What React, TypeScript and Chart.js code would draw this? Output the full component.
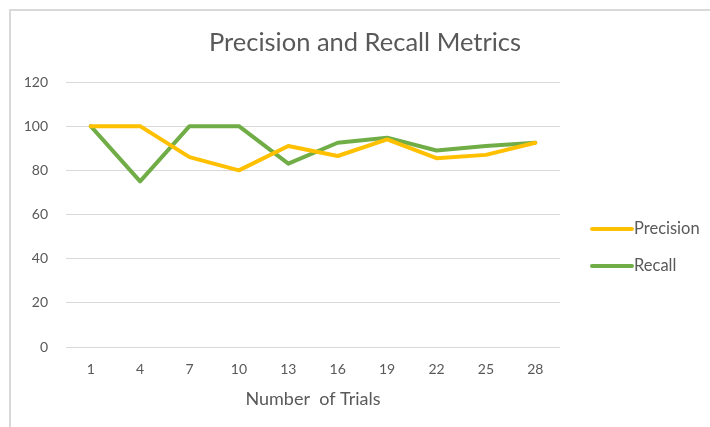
import React, { useEffect, useRef } from "react";
import { Chart, registerables } from "chart.js";

Chart.register(...registerables);

const trials = ["1", "4", "7", "10", "13", "16", "19", "22", "25", "28"];
const precision = [100, 100, 86, 80, 91, 86.5, 94, 85.5, 87, 92.5];
const recall = [100, 75, 100, 100, 83, 92.5, 94.8, 89, 91, 92.5];
const yTicks = [0, 20, 40, 60, 80, 100, 120];
const chartTitle = "Precision and Recall Metrics";
const xTitle = "Number  of Trials";

const FONT = "Lato, 'Open Sans', sans-serif";
const TEXT = "#595959";

const overlayPlugin = {
  id: "overlay",
  afterDraw(chart: any) {
    const ctx = chart.ctx;
    ctx.save();
    // title
    ctx.fillStyle = TEXT;
    ctx.font = `25.5px ${FONT}`;
    ctx.textAlign = "center";
    ctx.textBaseline = "middle";
    ctx.fillText(chartTitle, 365, 43);
    // legend
    const x0 = 592;
    const ys = [229, 266];
    chart.data.datasets.forEach((ds: any, i: number) => {
      const y = ys[i];
      ctx.strokeStyle = ds.borderColor;
      ctx.lineWidth = 4;
      ctx.lineCap = "round";
      ctx.beginPath();
      ctx.moveTo(x0, y);
      ctx.lineTo(x0 + 40, y);
      ctx.stroke();
      ctx.fillStyle = TEXT;
      ctx.font = `16.5px ${FONT}`;
      ctx.textBaseline = "middle";
      ctx.textAlign = "left";
      ctx.fillText(ds.label, x0 + 42, y);
    });
    ctx.restore();
  },
};

export default function App() {
  const ref = useRef<HTMLCanvasElement | null>(null);
  useEffect(() => {
    if (!ref.current) return;
    const chart = new Chart(ref.current, {
      type: "line",
      data: {
        labels: trials,
        datasets: [
          {
            label: "Precision",
            data: precision,
            borderColor: "#FFC000",
            backgroundColor: "#FFC000",
            borderWidth: 4,
            pointRadius: 0,
            tension: 0,
            borderJoinStyle: "round",
            borderCapStyle: "round",
          },
          {
            label: "Recall",
            data: recall,
            borderColor: "#70AD47",
            backgroundColor: "#70AD47",
            borderWidth: 4,
            pointRadius: 0,
            tension: 0,
            borderJoinStyle: "round",
            borderCapStyle: "round",
          },
        ],
      },
      options: {
        animation: false,
        responsive: false,
        events: [],
        layout: { padding: { left: 10, top: 82, right: 150, bottom: 17 } },
        plugins: {
          legend: { display: false },
          tooltip: { enabled: false },
          title: { display: false },
        },
        scales: {
          x: {
            type: "category",
            offset: true,
            grid: { display: false, drawTicks: false },
            border: { display: false },
            ticks: {
              color: TEXT,
              font: { family: FONT, size: 14 },
              padding: 14,
              maxRotation: 0,
            },
            title: {
              display: true,
              text: xTitle,
              color: TEXT,
              font: { family: FONT, size: 18 },
              padding: 0,
            },
            afterFit: (s: any) => {
              s.height = 63;
            },
          },
          y: {
            min: 0,
            max: 120,
            afterBuildTicks: (s: any) => {
              s.ticks = yTicks.map((v) => ({ value: v }));
            },
            grid: { color: "#d9d9d9", lineWidth: 1, drawTicks: false },
            border: { display: false },
            ticks: {
              color: TEXT,
              font: { family: FONT, size: 14 },
              padding: 18,
            },
            afterFit: (s: any) => {
              s.width = 56;
            },
          },
        },
      },
      plugins: [overlayPlugin],
    } as any);
    return () => chart.destroy();
  }, []);

  return (
    <div
      style={{
        position: "fixed",
        left: 0,
        top: 0,
        width: 710,
        height: 427,
        overflow: "hidden",
        background: "#fff",
      }}
    >
      <div
        style={{
          position: "absolute",
          left: 9,
          top: 9,
          width: 720,
          height: 430,
          borderTop: "2px solid #d9d9d9",
          borderLeft: "2px solid #d9d9d9",
        }}
      />
      <canvas
        ref={ref}
        width={710}
        height={427}
        style={{ position: "absolute", left: 0, top: 0, width: 710, height: 427 }}
      />
    </div>
  );
}
